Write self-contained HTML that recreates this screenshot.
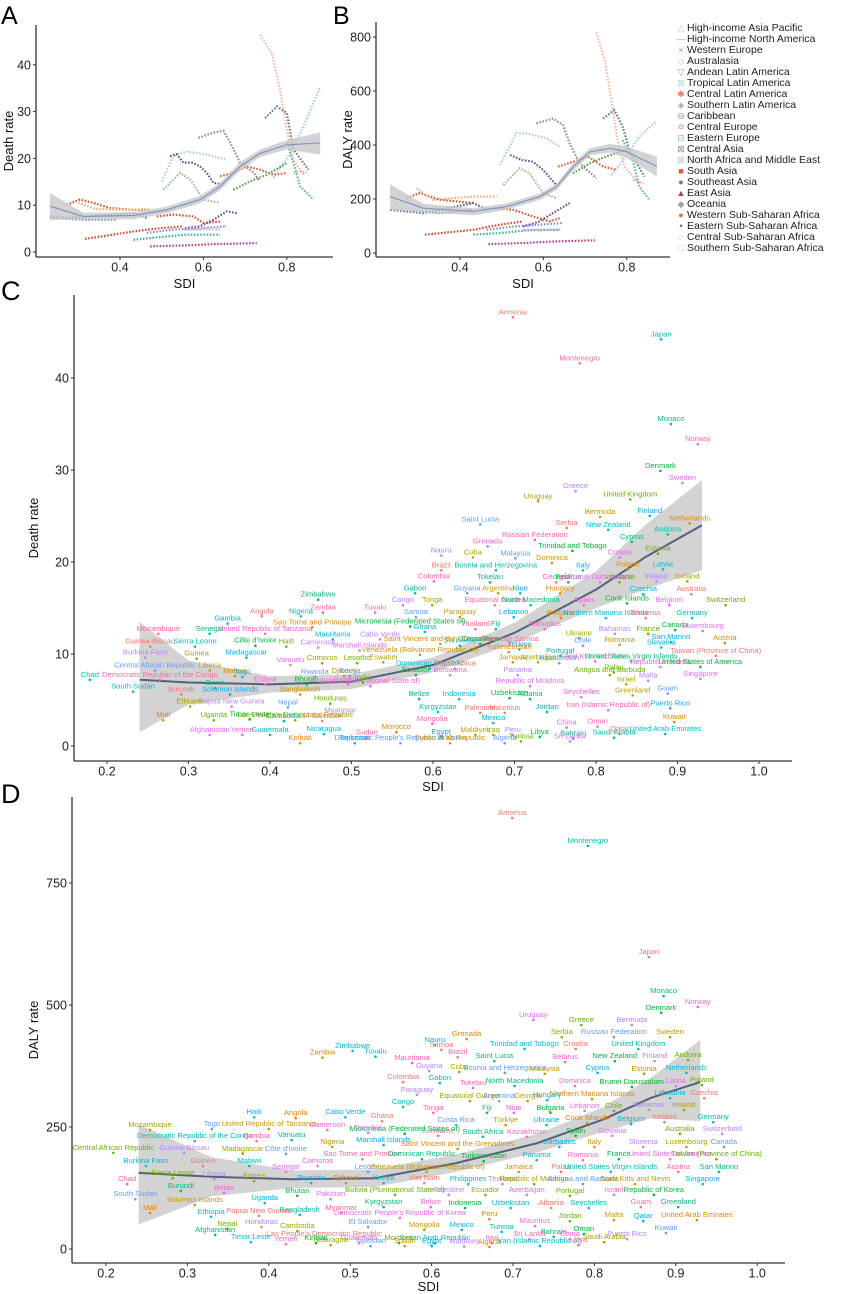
<!DOCTYPE html>
<html><head><meta charset="utf-8"><style>
html,body{margin:0;padding:0;background:#fff}
svg{display:block;font-family:"Liberation Sans",Arial,sans-serif}
</style></head><body>
<svg id="fig" width="842" height="1294" viewBox="0 0 842 1294" xmlns="http://www.w3.org/2000/svg">
<g id="pA"></g>
<g id="pB"></g>
<g id="leg"></g>
<g id="pC"></g>
<g id="pD"></g>
</svg>
<script>
const regionNames=["High-income Asia Pacific","High-income North America","Western Europe","Australasia","Andean Latin America","Tropical Latin America","Central Latin America","Southern Latin America","Caribbean","Central Europe","Eastern Europe","Central Asia","North Africa and Middle East","South Asia","Southeast Asia","East Asia","Oceania","Western Sub-Saharan Africa","Eastern Sub-Saharan Africa","Central Sub-Saharan Africa","Southern Sub-Saharan Africa"];
const legendSymbols=["△","—","×","◇","▽","⊠","✱","◈","⊖","✡","⊟","⊠","⊠","■","●","▲","◆","●","•","○","□"];
const legendColors=["#9fd3e0","#8a96aa","#8a9ab8","#f0b4a0","#8fa0c8","#b8d8d0","#e87a60","#b89a90","#8a8ab8","#e89090","#98c0a8","#9a8ab0","#a8d0c0","#d85a3a","#6a6ab8","#a04060","#a0a0a0","#e07040","#5060a0","#f0b890","#c0c8d0"];
const seriesColors=["#f4b9a0","#6b7a8f","#9fd3e0","#5fb8a0","#a08a78","#a8d8b8","#9cbf98","#5a5a9a","#e0603a","#58a060","#d8582a","#f0b080","#556677","#7080b0","#e05030","#7a4aa0","#d84a2a","#8c8ce0","#40b0a0","#c0408a","#c0b0e0","#f0a890"];
const aSdi=[[.736,.764,.784,.80,.816,.84],[.748,.776,.80,.816,.852],[.768,.808,.84,.88],[.80,.816,.832,.864],[.588,.624,.648,.664,.688,.72,.736],[.50,.528,.56,.608,.656],[.504,.544,.568,.60,.64],[.52,.536,.552,.572,.592,.608,.624,.644],[.64,.672,.704,.736,.768,.80],[.672,.712,.752,.80],[.272,.304,.336,.376,.432,.472],[.30,.34,.40,.47],[.232,.272,.392,.432,.464],[.232,.312,.392],[.488,.528,.576,.60,.64],[.556,.592,.624,.656,.68],[.316,.376,.432,.496,.552],[.464,.528,.592,.656],[.432,.496,.56,.64],[.472,.552,.632,.728],[.552,.592,.64],[.816,.832,.848]];
const aRate=[[46.4,42.5,34.6,26.1,19.7,16.5],[28.6,31.1,29.7,21.9,17.6],[15.9,21.1,26.8,35.3],[23.3,19.0,14.0,11.2],[24.4,25.5,25.9,23.4,19.1,17.0,15.1],[15.1,20.5,21.5,20.8,19.7],[13.3,16.9,15.5,11.2,10.5],[20.5,20.9,19.1,19.1,18.3,16.9,14.8,14.4],[16.2,16.9,18.3,17.6,16.5,16.9],[13.3,15.1,16.5,19.0],[10.1,11.2,10.5,9.4,9.0,9.0],[10.6,9.2,9.0,9.2],[7.6,7.3,8.0,8.3,7.3],[7.3,6.9,6.9],[7.6,8.0,7.6,6.2,6.5],[5.1,5.5,6.9,8.7,8.3],[2.8,3.6,4.4,5.1,5.5],[4.1,4.8,5.1,5.5],[2.6,3.2,3.7,3.7],[1.2,1.4,1.7,1.9],[4.8,4.8,4.8],[16.9,17.2,16.9]];
const bSdi=[[.727,.747,.763,.778,.794,.83],[.743,.77,.79,.806,.842],[.763,.798,.83,.87],[.79,.814,.83,.854],[.583,.623,.647,.663,.687,.727],[.496,.535,.559,.607,.639],[.504,.543,.567,.599,.631],[.52,.547,.575,.599,.631],[.635,.671,.707,.743,.775],[.671,.711,.75,.798],[.272,.304,.352,.432],[.296,.335,.432,.488],[.233,.312,.432,.464],[.233,.352,.432],[.48,.528,.576,.615,.639],[.551,.591,.623,.663],[.316,.432,.496,.552],[.464,.528,.592,.648],[.432,.496,.56,.64],[.468,.552,.632,.724],[.552,.64],[.816,.84]];
const bRate=[[818,714,566,418,320,258],[498,529,468,382,283],[289,357,431,486],[418,345,246,197],[480,498,474,406,332,277],[326,443,443,425,394],[252,314,295,222,203],[363,345,338,308,252],[320,338,357,320,308],[295,332,357,382],[203,222,197,185],[240,197,209,209],[160,148,185,160],[160,148,160],[166,160,135,117,129],[98,117,148,185],[68,86,105,117],[86,98,105,111],[68,74,84,86],[33,37,43,47],[86,86],[271,258]];
const aFitSdi=[.232,.312,.432,.512,.592,.64,.688,.736,.80,.88];
const aFit=[9.8,7.6,7.8,9.0,11.2,14.0,18.3,21.1,22.9,23.3];
const aLo=[6.9,6.9,7.0,8.3,10.4,13.2,17.4,20.3,21.9,20.8];
const aHi=[12.6,8.4,8.5,9.7,12.0,14.8,19.2,21.9,23.9,25.6];
const bFitSdi=[.232,.312,.432,.512,.592,.632,.672,.712,.76,.80,.872];
const bFit=[209,166,154,172,209,246,320,375,388,375,320];
const bLo=[160,150,140,160,197,234,306,362,372,352,283];
const bHi=[255,182,166,184,221,258,334,388,404,394,357];
const aYTicks=[0,10,20,30,40], bYTicks=[0,200,400,600,800], abXTicks=[0.4,0.6,0.8];
const cdXTicks=[0.2,0.3,0.4,0.5,0.6,0.7,0.8,0.9,1.0], cYTicks=[0,10,20,30,40], dYTicks=[0,250,500,750];
const cFitSdi=[.24,.3,.4,.5,.6,.7,.8,.86,.93];
const cFit=[7.2,6.9,6.7,7.0,8.8,12.3,17.0,20.5,24.0];
const cLo=[1.5,4.5,5.8,6.2,8.0,11.2,15.0,17.0,19.1];
const cHi=[13.5,9.3,7.6,7.8,9.6,13.4,19.0,24.0,28.9];
const dFitSdi=[.24,.33,.43,.53,.63,.73,.81,.87,.93];
const dFit=[156,148,143,145,176,217,265,310,342];
const dLo=[50,108,125,127,158,198,240,268,262];
const dHi=[255,188,161,163,194,236,290,352,428];
const cNames=["Armenia","Japan","Montenegro","Monaco","Norway","Denmark","Sweden","United Kingdom","Greece","Uruguay","Saint Lucia","Bermuda","Finland","Netherlands","New Zealand","Serbia","Andorra","Russian Federation","Cyprus","Grenada","Trinidad and Tobago","Croatia","Estonia","Nauru","Cuba","Malaysia","Dominica","Italy","Poland","Latvia","Brazil","Bosnia and Herzegovina","Colombia","Tokelau","Georgia","Belarus","Brunei Darussalam","Lithuania","Ireland","Iceland","Guyana","Argentina","Niue","Hungary","Czechia","Australia","Gabon","Equatorial Guinea","North Macedonia","Spain","Cook Islands","Belgium","Switzerland","Congo","Tonga","Samoa","Paraguay","Lebanon","Bulgaria","Northern Mariana Islands","Slovenia","Germany","Thailand","Fiji","Barbados","Canada","Luxembourg","France","Bahamas","Ukraine","Chile","Romania","San Marino","Austria","Slovakia","Taiwan (Province of China)","Portugal","Saint Kitts and Nevis","United States Virgin Islands","Republic of Korea","United States of America","Singapore","Palau","Malta","Israel","Guam","Greenland","Puerto Rico","Kuwait","United Arab Emirates","Qatar","Saudi Arabia","Oman","Bahrain","China","Libya","Sri Lanka","Tunisia","Peru","Iraq","Algeria","Maldives","Egypt","Morocco","Mexico","Mauritius","Jordan","Iran (Islamic Republic of)","Albania","Seychelles","Uzbekistan","Republic of Moldova","Antigua and Barbuda","Panama","Azerbaijan","Kazakhstan","Jamaica","Türkiye","Turkmenistan","Indonesia","Palestine","Kyrgyzstan","Mongolia","Belize","Bolivia (Plurinational State of)","Ecuador","Botswana","Honduras","Myanmar","Lao People's Democratic Republic","Democratic People's Republic of Korea","Syrian Arab Republic","Tajikistan","Kiribati","Nicaragua","El Salvador","Guatemala","Sudan","Cambodia","Yemen","Timor-Leste","Afghanistan","Uganda","Papua New Guinea","Ethiopia","Nepal","Bangladesh","Solomon Islands","Mali","South Sudan","Burundi","Chad","Democratic Republic of the Congo","Benin","Eritrea","Bhutan","Pakistan","India","Burkina Faso","Guinea","Central African Republic","Liberia","Madagascar","Malawi","Togo","Guinea-Bissau","Sierra Leone","Mozambique","Senegal","United Republic of Tanzania","Côte d'Ivoire","Vanuatu","Haiti","Cameroon","Comoros","Rwanda","Djibouti","Gambia","Sao Tome and Principe","Mauritania","Angola","Nigeria","Zambia","Zimbabwe","Tuvalu","Micronesia (Federated States of)","Marshall Islands","Lesotho","Cabo Verde","Eswatini","Kenya","Venezuela (Bolivarian Republic of)","Suriname","Saint Vincent and the Grenadines","Dominican Republic","South Africa","Ghana","American Samoa","Costa Rica"];
const cSdi=[.698,.880,.780,.892,.925,.879,.906,.842,.775,.729,.658,.805,.866,.915,.815,.764,.888,.725,.844,.667,.771,.829,.876,.610,.649,.701,.746,.784,.839,.882,.610,.677,.601,.670,.751,.766,.805,.829,.874,.912,.642,.680,.707,.756,.858,.917,.578,.676,.720,.785,.838,.890,.959,.563,.599,.579,.633,.699,.757,.812,.861,.918,.652,.677,.737,.897,.931,.864,.823,.779,.784,.829,.892,.958,.880,.947,.756,.799,.843,.879,.928,.928,.822,.864,.837,.888,.845,.891,.896,.885,.829,.822,.802,.772,.764,.731,.768,.708,.698,.674,.688,.652,.610,.555,.674,.688,.740,.815,.719,.782,.694,.719,.817,.704,.729,.755,.698,.706,.693,.632,.658,.606,.599,.583,.523,.579,.621,.474,.486,.431,.560,.621,.504,.437,.466,.464,.400,.519,.417,.366,.375,.326,.331,.353,.302,.422,.437,.351,.269,.232,.291,.179,.265,.333,.394,.445,.496,.514,.247,.310,.259,.326,.371,.357,.366,.253,.308,.263,.326,.394,.382,.425,.420,.459,.464,.455,.491,.348,.452,.477,.390,.438,.465,.459,.529,.572,.510,.507,.535,.539,.498,.584,.633,.609,.596,.627,.590,.694,.658];
const cRate=[46.6,44.2,41.6,35.0,32.8,29.9,28.6,26.8,27.7,26.6,24.1,24.9,25.0,24.2,23.5,23.7,23.0,22.4,22.2,21.7,21.2,20.5,20.9,20.7,20.5,20.4,19.9,19.1,19.2,19.2,19.1,19.1,17.9,17.8,17.8,17.8,17.8,17.8,17.9,17.9,16.6,16.6,16.6,16.6,16.5,16.5,16.6,15.3,15.3,15.3,15.5,15.3,15.3,15.3,15.3,14.0,14.0,14.0,13.9,13.9,13.9,13.9,12.7,12.7,12.7,12.6,12.5,12.2,12.2,11.7,10.9,11.0,11.3,11.2,10.7,9.8,9.8,9.2,9.2,8.6,8.6,7.3,8.0,7.1,6.7,5.7,5.5,4.1,2.6,1.3,1.3,0.9,2.1,0.8,2.0,1.0,0.5,0.5,1.2,1.2,0.3,1.2,1.0,1.5,2.5,3.6,3.7,3.9,5.1,5.3,5.2,6.5,7.7,7.7,9.1,9.0,9.1,10.5,10.2,5.1,3.6,3.7,2.4,5.1,6.5,7.7,7.7,4.6,3.3,2.8,0.3,0.3,0.3,0.3,1.3,2.7,1.2,0.9,2.7,1.2,2.9,1.2,2.8,4.3,4.3,4.2,5.6,5.6,2.8,5.9,5.6,7.2,7.2,6.3,6.7,6.7,6.7,6.9,9.6,9.5,8.2,8.2,9.6,7.6,7.5,10.8,10.8,12.2,12.2,12.2,10.9,8.8,10.8,10.7,9.0,7.5,7.6,13.3,12.9,11.6,14.1,14.1,14.5,15.9,14.5,13.0,10.4,9.0,11.6,9.1,7.6,9.9,10.9,11.1,8.4,8.4,12.4,11.1,11.1];
const dNames=["Armenia","Montenegro","Japan","Monaco","Norway","Denmark","Uruguay","Greece","Bermuda","Serbia","Russian Federation","Sweden","Nauru","Grenada","Trinidad and Tobago","Croatia","United Kingdom","Brazil","Saint Lucia","Belarus","New Zealand","Finland","Andorra","Guyana","Cuba","Bosnia and Herzegovina","Malaysia","Cyprus","Estonia","Netherlands","Colombia","Gabon","Tokelau","North Macedonia","Dominica","Brunei Darussalam","Latvia","Poland","Paraguay","Equatorial Guinea","Argentina","Georgia","Hungary","Northern Mariana Islands","Lithuania","Czechia","Congo","Tonga","Fiji","Niue","Bulgaria","Lebanon","Chile","Bahamas","Ireland","Costa Rica","Türkiye","Ukraine","Cook Islands","Belgium","Iceland","Germany","Suriname","South Africa","Kazakhstan","Spain","Slovakia","Australia","Switzerland","Mozambique","Togo","United Republic of Tanzania","Haiti","Angola","Cabo Verde","Ghana","Democratic Republic of the Congo","Gambia","Vanuatu","Cameroon","Micronesia (Federated States of)","Namibia","Central African Republic","Guinea-Bissau","Madagascar","Côte d'Ivoire","Nigeria","Marshall Islands","Saint Vincent and the Grenadines","Burkina Faso","Guinea","Malawi","Sao Tome and Principe","Dominican Republic","Comoros","Turkmenistan","Senegal","Sierra Leone","Liberia","Eritrea","Lesotho","Venezuela (Bolivarian Republic of)","Rwanda","Djibouti","Kenya","Viet Nam","Philippines","Chad","Burundi","Benin","Bhutan","Pakistan","Bolivia (Plurinational State of)","Palestine","Ecuador","South Sudan","Solomon Islands","Uganda","Mali","Ethiopia","Papua New Guinea","Bangladesh","Myanmar","Kyrgyzstan","Belize","Indonesia","Democratic People's Republic of Korea","Nepal","Honduras","Cambodia","El Salvador","Mongolia","Mexico","Peru","Timor-Leste","Lao People's Democratic Republic","Syrian Arab Republic","Iraq","Afghanistan","Yemen","Kiribati","Guatemala","Morocco","Maldives","Nicaragua","Tajikistan","Sudan","Egypt","Algeria","Iran (Islamic Republic of)","Libya","Tunisia","Sri Lanka","Bahrain","China","Oman","Mauritius","Jordan","Puerto Rico","Saudi Arabia","Kuwait","Malta","Qatar","United Arab Emirates","Uzbekistan","Albania","Seychelles","Guam","Greenland","Israel","Republic of Korea","Azerbaijan","Portugal","Thailand","Republic of Moldova","Antigua and Barbuda","Saint Kitts and Nevis","Singapore","Jamaica","Panama","Palau","United States Virgin Islands","Austria","San Marino","Romania","France","United States of America","Taiwan (Province of China)","Slovenia","Luxembourg","Canada","Italy","Barbados","Zambia","Zimbabwe","Samoa","Tuvalu","Mauritania"];
const dSdi=[.699,.792,.867,.885,.927,.882,.725,.784,.846,.760,.824,.893,.604,.643,.714,.777,.854,.632,.677,.764,.825,.874,.915,.597,.634,.690,.739,.804,.861,.913,.565,.610,.651,.702,.776,.846,.900,.932,.582,.647,.683,.718,.742,.797,.893,.935,.565,.602,.668,.701,.746,.788,.824,.867,.910,.630,.691,.741,.791,.845,.886,.946,.608,.663,.717,.777,.822,.905,.957,.254,.33,.40,.382,.433,.494,.539,.309,.385,.428,.472,.567,.522,.209,.296,.368,.421,.478,.541,.632,.249,.319,.376,.515,.588,.460,.664,.421,.282,.333,.382,.522,.594,.452,.495,.541,.591,.645,.226,.292,.345,.435,.476,.555,.621,.666,.236,.309,.395,.254,.329,.388,.438,.489,.541,.599,.641,.561,.349,.391,.435,.522,.591,.637,.671,.378,.468,.604,.674,.334,.421,.458,.511,.560,.640,.476,.525,.567,.600,.671,.733,.78,.686,.72,.750,.770,.787,.727,.770,.840,.812,.888,.824,.860,.926,.697,.747,.793,.857,.903,.824,.873,.717,.770,.687,.726,.786,.850,.933,.707,.729,.759,.820,.903,.953,.786,.830,.893,.95,.860,.913,.959,.800,.757,.466,.503,.612,.531,.576];
const dRate=[883,826,598,518,496,484,469,459,459,434,434,434,418,430,410,410,410,393,385,383,385,385,387,365,363,361,359,361,359,361,342,340,330,334,334,332,334,336,316,303,303,303,305,307,309,309,291,279,279,279,279,283,283,285,285,254,254,254,258,256,260,260,232,230,230,232,232,236,236,244,246,246,270,268,270,262,221,221,223,244,236,238,197,197,195,195,209,213,205,170,170,170,184,184,170,180,158,145,143,139,158,158,135,135,135,135,133,133,119,115,109,102,111,111,111,102,90,94,74,66,68,70,74,86,86,84,64,41,45,37,45,39,39,61,14,20,12,12,29,10,12,12,12,5,8,6,6,6,4,6,8,35,20,25,20,31,47,57,20,14,33,59,57,59,84,84,84,86,86,111,111,111,109,133,133,133,133,133,158,182,158,158,158,158,182,184,184,184,209,209,209,209,209,392,406,408,394,381];
const countryPalette=["#F8766D","#E58700","#C99800","#A3A500","#6BB100","#00BA38","#00BF7D","#00C0AF","#00BCD8","#00B0F6","#619CFF","#B983FF","#E76BF3","#FD61D1","#FF67A4"];

const NS="http://www.w3.org/2000/svg";
function mk(tag,attrs,parent){const e=document.createElementNS(NS,tag);for(const k in attrs)e.setAttribute(k,attrs[k]);parent.appendChild(e);return e;}
function txt(parent,x,y,s,size,anchor,fill,extra){const t=mk('text',Object.assign({x:x,y:y,'font-size':size,'text-anchor':anchor||'start',fill:fill||'#222'},extra||{}),parent);t.textContent=s;return t;}

function axes(g,P,xt,yt,xl,yl,letter,fs,titleFs,fmtX){
  mk('line',{x1:P.x0,y1:P.yTop,x2:P.x0,y2:P.yAx,stroke:'#333','stroke-width':1.3},g);
  mk('line',{x1:P.x0,y1:P.yAx,x2:P.xEnd,y2:P.yAx,stroke:'#333','stroke-width':1.3},g);
  xt.forEach(v=>{const x=P.sx(v);
    mk('line',{x1:x,y1:P.yAx,x2:x,y2:P.yAx+3,stroke:'#333'},g);
    const t=txt(g,x,P.yAx+fs+2,fmtX(v),fs,'middle','#222');
    
    });
  yt.forEach(v=>{const y=P.sy(v);
    mk('line',{x1:P.x0-3,y1:y,x2:P.x0,y2:y,stroke:'#333'},g);
    const t=txt(g,P.x0-5,y+fs*0.36,String(v),fs,'end','#222');
    
    });
  let t=txt(g,(P.x0+P.xEnd)/2,P.xTitleY,xl,titleFs,'middle','#111');
  
  
  t=txt(g,0,0,yl,titleFs,'middle','#111',{transform:`translate(${P.yTitleX},${(P.yTop+P.yAx)/2}) rotate(-90)`});
  
  
  t=txt(g,P.letX,P.letY,letter,P.letFs,'start','#000');
  
  
}
function fitBand(g,P,xs,fit,lo,hi,lw){
  let d='M'+xs.map((s,i)=>P.sx(s)+','+P.sy(hi[i])).join('L')+'L'+xs.slice().reverse().map((s,j)=>{const i=xs.length-1-j;return P.sx(s)+','+P.sy(lo[i]);}).join('L')+'Z';
  const b=mk('path',{d:d,fill:'#c8c8c8','fill-opacity':0.8},g);
  
  
  const l=mk('polyline',{points:xs.map((s,i)=>P.sx(s)+','+P.sy(fit[i])).join(' '),fill:'none',stroke:lw>1.5?'#52627a':'#7f96c4','stroke-width':lw},g);
  
  
}
function regionPanel(g,P,sdis,rates){
  sdis.forEach((xs,k)=>{
    const l=mk('polyline',{points:xs.map((s,i)=>P.sx(s)+','+P.sy(rates[k][i])).join(' '),fill:'none',stroke:seriesColors[k],'stroke-width':2.2,'stroke-dasharray':'1.6 1.6'},g);
    
    
  });
}
function countries(g,P,names,sdis,rates){
  names.forEach((n,i)=>{const x=P.sx(sdis[i]),y=P.sy(rates[i]);const c=countryPalette[(i*7)%countryPalette.length];
    const dt=mk('circle',{cx:x,cy:y,r:1.3,fill:c},g);
    
    
    const t=txt(g,x,y-3,n,7.6,'middle',c);
    
    });
}
const f1=v=>v.toFixed(1);
// Panel A
const PA={x0:36,xEnd:333,yTop:25,yAx:257,sx:s=>120+(s-0.4)*417,sy:r=>252-r*4.68,xTitleY:288,yTitleX:13,letX:1,letY:24,letFs:25};
const gA=document.getElementById('pA');
regionPanel(gA,PA,aSdi,aRate);fitBand(gA,PA,aFitSdi,aFit,aLo,aHi,1.2);
axes(gA,PA,abXTicks,aYTicks,'SDI','Death rate','A',12.5,13,f1);
// Panel B
const PB={x0:376,xEnd:670,yTop:22,yAx:257,sx:s=>460+(s-0.4)*417,sy:r=>253-r*0.27,xTitleY:288,yTitleX:352,letX:333,letY:24,letFs:25};
const gB=document.getElementById('pB');
regionPanel(gB,PB,bSdi,bRate);fitBand(gB,PB,bFitSdi,bFit,bLo,bHi,1.2);
axes(gB,PB,abXTicks,bYTicks,'SDI','DALY rate','B',12.5,13,f1);
// Legend
const gL=document.getElementById('leg');
regionNames.forEach((n,i)=>{const y=31+i*11;
  const s=txt(gL,681,y,legendSymbols[i],9,'middle',legendColors[i]);
  
  
  const t=txt(gL,687,y,n,10.5,'start','#222');
  
  });
// Panel C
const PC={x0:74,xEnd:792,yTop:295,yAx:761,sx:s=>107+(s-0.2)*815,sy:r=>746-r*9.2,xTitleY:791,yTitleX:38,letX:1,letY:300,letFs:27};
const gC=document.getElementById('pC');
fitBand(gC,PC,cFitSdi,cFit,cLo,cHi,2);countries(gC,PC,cNames,cSdi,cRate);
axes(gC,PC,cdXTicks,cYTicks,'SDI','Death rate','C',12.5,13,f1);
// Panel D
const PD={x0:72,xEnd:785,yTop:797,yAx:1263,sx:s=>106+(s-0.2)*814,sy:r=>1249-r*0.488,xTitleY:1291,yTitleX:38,letX:1,letY:803,letFs:27};
const gD=document.getElementById('pD');
fitBand(gD,PD,dFitSdi,dFit,dLo,dHi,2);countries(gD,PD,dNames,dSdi,dRate);
axes(gD,PD,cdXTicks,dYTicks,'SDI','DALY rate','D',12.5,13,f1);
</script>
</body></html>
